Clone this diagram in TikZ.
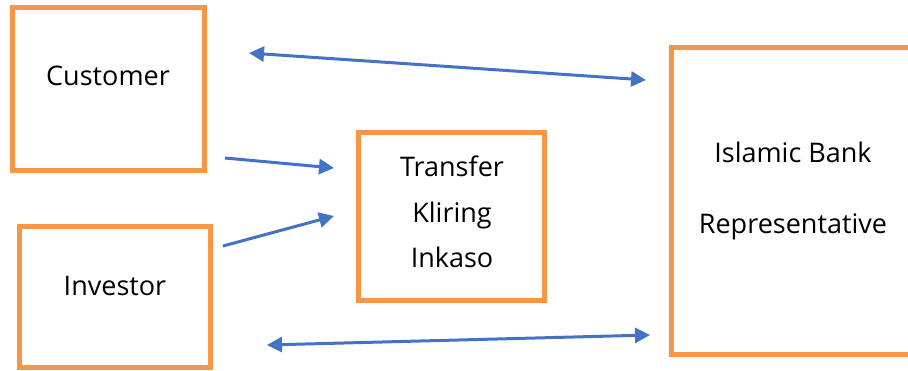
\documentclass[tikz,border=0pt]{standalone}
\usepackage{fontspec}
\setmainfont{Open Sans}
\usetikzlibrary{arrows.meta}
\definecolor{boxorange}{RGB}{247,150,70}
\definecolor{linkblue}{RGB}{68,114,196}
\begin{document}
\begin{tikzpicture}[x=1pt,y=-1pt,
  box/.style={draw=boxorange, line width=5pt, rectangle, inner sep=0pt, outer sep=0pt},
  lbl/.style={font=\fontsize{27}{32}\selectfont, anchor=base, inner sep=0pt, text=black},
  link/.style={draw=linkblue, line width=3pt, -{Triangle[length=15pt,width=15pt]}},
  twoway/.style={draw=linkblue, line width=3pt, {Triangle[length=15pt,width=15pt]}-{Triangle[length=15pt,width=15pt]}}]
\clip (0,0) rectangle (908,370);
\fill[white] (0,0) rectangle (908,370);

% boxes
\node[box, minimum width=192pt, minimum height=163pt] (cust) at (108.5,89) {};
\node[box, minimum width=191pt, minimum height=141pt] (inv) at (115,297) {};
\node[box, minimum width=186pt, minimum height=168pt] (pay) at (451.5,216.5) {};
\node[box, minimum width=240.5pt, minimum height=307pt] (bank) at (791.75,201) {};

% labels
\node[lbl] (custtxt) at (108,85) {Customer};
\node[lbl] (invtxt) at (115,295) {Investor};
\node[lbl] (paya) at (452,176) {Transfer};
\node[lbl] (payb) at (452,222) {Kliring};
\node[lbl] (payc) at (452,267) {Inkaso};
\node[lbl] (banka) at (793,162) {Islamic Bank};
\node[lbl] (bankb) at (793,233) {Representative};

% connector ends
\coordinate (t1) at (249,53);
\coordinate (t2) at (646,80);
\coordinate (c1) at (225,158);
\coordinate (c2) at (334,168);
\coordinate (i1) at (223,246);
\coordinate (i2) at (334,216);
\coordinate (b1) at (267,345);
\coordinate (b2) at (650,335);

% connectors
\draw[twoway] (t1) -- (t2);
\draw[link] (c1) -- (c2);
\draw[link] (i1) -- (i2);
\draw[twoway] (b1) -- (b2);
\end{tikzpicture}
\end{document}
